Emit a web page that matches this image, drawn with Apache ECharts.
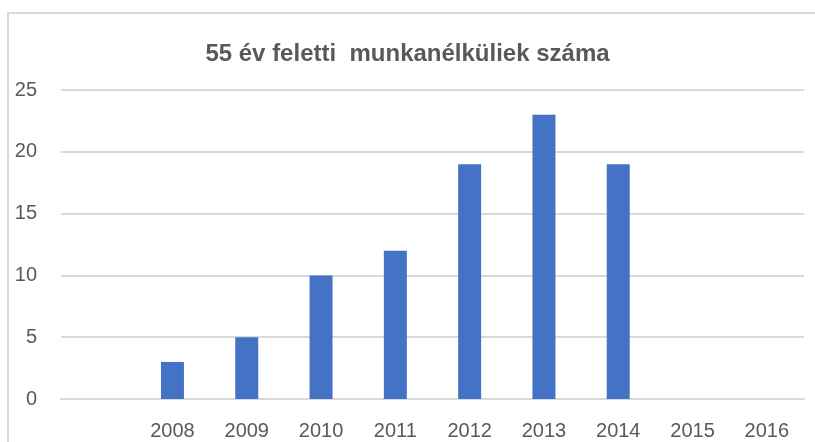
<!DOCTYPE html>
<html><head><meta charset="utf-8">
<script src="https://cdn.jsdelivr.net/npm/echarts@6/dist/echarts.min.js"></script>
<style>html,body{margin:0;padding:0;background:#fff}#c{width:815px;height:442px}</style>
</head><body><div id="c"></div>
<script>
const title = '55 év feletti  munkanélküliek száma';
const categories = ['', '2008', '2009', '2010', '2011', '2012', '2013', '2014', '2015', '2016'];
const values = [null, 3, 5, 10, 12, 19, 23, 19, null, null];
const yTicks = { min: 0, max: 25, interval: 5 };
const font = '"Liberation Sans", sans-serif';
const chart = echarts.init(document.getElementById('c'));
chart.setOption({
  animation: false,
  graphic: [{ type: 'rect', shape: { x: 8, y: 13, width: 900, height: 500 }, style: { fill: 'none', stroke: '#d9d9d9', lineWidth: 2 }, silent: true }],
  title: { text: title, left: 'center', top: 37, textStyle: { fontFamily: font, fontSize: 24, fontWeight: 'bold', color: '#595959' } },
  grid: { left: 61, right: 11, top: 90, bottom: 43 },
  xAxis: {
    type: 'category', data: categories,
    axisLine: { lineStyle: { color: '#d9d9d9', width: 2 } },
    axisTick: { show: false },
    axisLabel: { fontFamily: font, fontSize: 20, color: '#595959', margin: 22, interval: 0 }
  },
  yAxis: {
    type: 'value', min: yTicks.min, max: yTicks.max, interval: yTicks.interval,
    axisLine: { show: false }, axisTick: { show: false },
    splitLine: { lineStyle: { color: '#d9d9d9', width: 2 } },
    axisLabel: { fontFamily: font, fontSize: 20, color: '#595959', margin: 24 }
  },
  series: [{ type: 'bar', data: values, barWidth: 23, itemStyle: { color: '#4472C4' } }]
});
</script></body></html>
